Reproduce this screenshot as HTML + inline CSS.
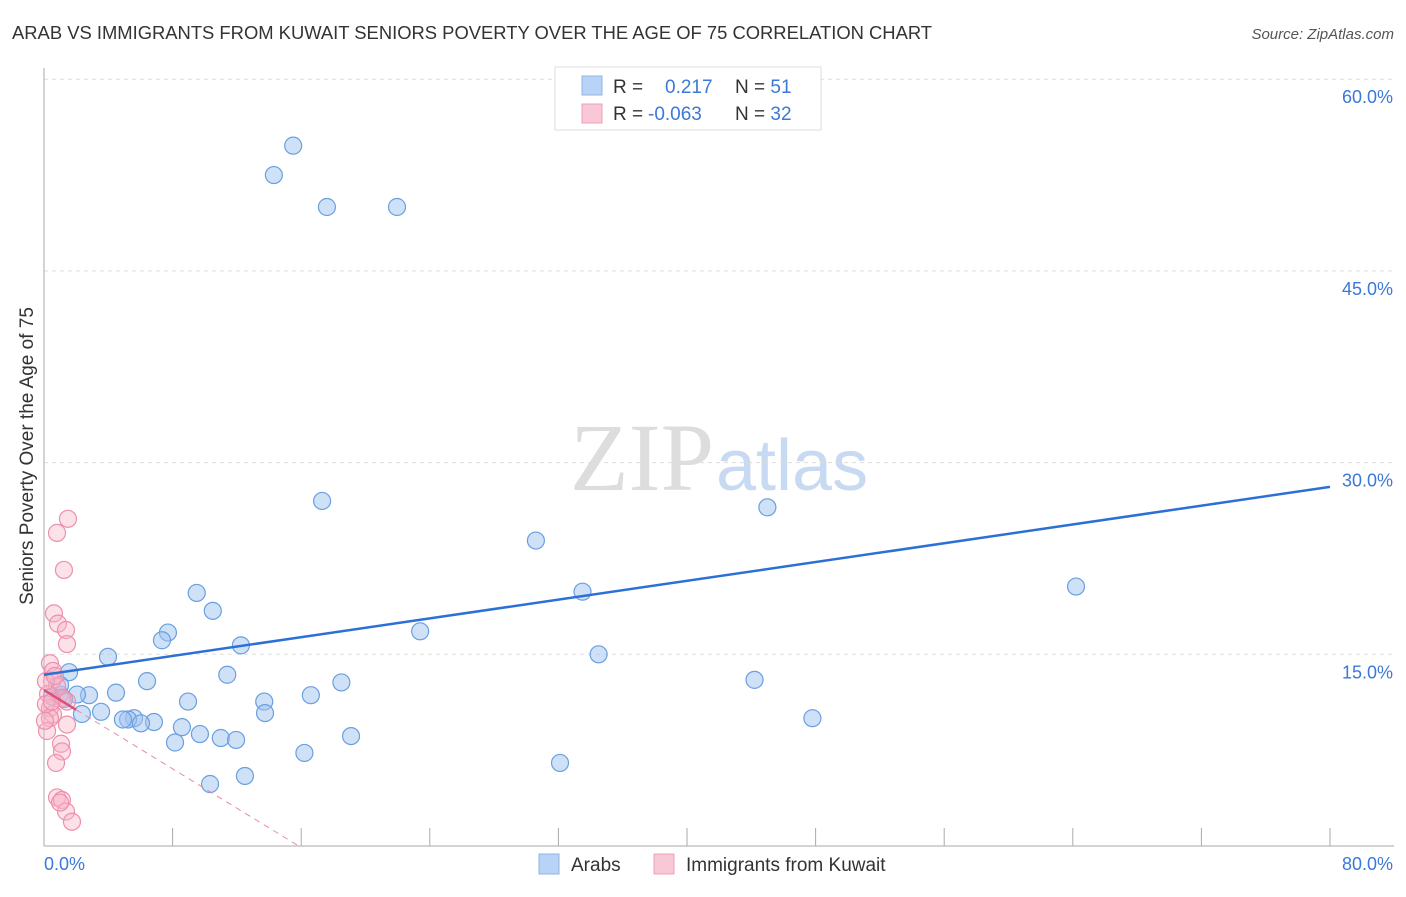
<!DOCTYPE html>
<html><head><meta charset="utf-8"><style>
body{margin:0;background:#fff;font-family:"Liberation Sans",sans-serif}
</style></head><body>
<svg id="c" width="1406" height="892" xmlns="http://www.w3.org/2000/svg" font-family="Liberation Sans, sans-serif">
<text x="12" y="39" font-size="18.4" fill="#333">ARAB VS IMMIGRANTS FROM KUWAIT SENIORS POVERTY OVER THE AGE OF 75 CORRELATION CHART</text>
<text x="1394" y="39" font-size="15" fill="#555" font-style="italic" text-anchor="end">Source: ZipAtlas.com</text>
<text x="714" y="490" font-size="96" fill="#ddd" text-anchor="end" font-family="Liberation Serif, serif">ZIP</text>
<text x="716" y="490" font-size="72" fill="#c8daf2">atlas</text>
<text transform="translate(33,456) rotate(-90)" font-size="19" fill="#333" text-anchor="middle">Seniors Poverty Over the Age of 75</text>
<g id="grid"></g><g id="marks"></g>
<g>
<rect x="555" y="67" width="266" height="63" fill="#fff" stroke="#ddd"/>
<rect x="582" y="76" width="20" height="19" fill="#b8d3f5" stroke="#8fb6e8"/>
<rect x="582" y="104" width="20" height="19" fill="#f9c8d6" stroke="#f0a0b8"/>
<text x="613" y="93" font-size="19" fill="#333">R = <tspan x="665" fill="#3b78d8">0.217</tspan><tspan x="735" fill="#333">N = </tspan><tspan fill="#3b78d8">51</tspan></text>
<text x="613" y="120" font-size="19" fill="#333">R = <tspan x="648" fill="#3b78d8">-0.063</tspan><tspan x="735" fill="#333">N = </tspan><tspan fill="#3b78d8">32</tspan></text>
</g>
<g>
<rect x="539" y="854" width="20" height="20" fill="#b8d3f5" stroke="#8fb6e8"/>
<text x="571" y="871" font-size="19" fill="#333">Arabs</text>
<rect x="654" y="854" width="20" height="20" fill="#f9c8d6" stroke="#f0a0b8"/>
<text x="686" y="871" font-size="19" fill="#333">Immigrants from Kuwait</text>
</g>
</svg>
<script>
const yTicks=[15,30,45,60];
const yTickLabels=["15.0%","30.0%","45.0%","60.0%"];
const xTicks=[8,16,24,32,40,48,56,64,72,80];
const arabX=[15.5,14.3,17.6,21.96,17.3,45.0,30.6,64.2,33.5,9.5,10.5,7.71,7.34,23.4,12.25,3.98,34.5,1.56,11.4,6.41,18.5,44.2,4.48,2.8,2.05,1.0,0.5,8.96,13.7,16.6,5.6,47.8,3.55,2.36,13.75,5.23,6.84,4.91,6.03,8.58,9.7,11.0,19.1,11.95,8.15,16.2,12.5,32.1,10.33,1.0,1.24];
const arabY=[54.8,52.5,50.0,50.0,27.0,26.5,23.9,20.3,19.9,19.8,18.4,16.7,16.1,16.8,15.7,14.8,15.0,13.6,13.4,12.9,12.8,13.0,12.0,11.8,11.85,11.85,11.7,11.3,11.3,11.8,10.0,10.0,10.5,10.33,10.4,9.9,9.7,9.9,9.6,9.3,8.76,8.45,8.6,8.3,8.1,7.28,5.48,6.5,4.85,12.6,11.5];
const kuwX=[1.49,0.81,1.24,0.62,0.87,1.37,1.43,0.37,0.56,0.5,0.81,0.25,1.12,0.37,0.56,1.43,0.37,0.19,1.06,1.12,0.75,0.81,1.12,1.37,1.74,1.0,0.12,0.12,0.06,0.5,1.43,0.68];
const kuwY=[25.6,24.5,21.6,18.2,17.4,16.9,15.8,14.3,13.7,12.9,12.5,11.9,11.6,10.8,10.3,9.5,10.0,9.0,8.0,7.4,6.5,3.8,3.6,2.7,1.9,3.4,12.9,11.1,9.8,11.3,11.3,13.3];
const lineArab=[13.4,28.1];
const lineKuw=[12.2,-0.77];
const X=v=>44+v*16.075, Y=v=>846-v*12.78;
const NS="http://www.w3.org/2000/svg";
function mk(t,a,p){const e=document.createElementNS(NS,t);for(const k in a)e.setAttribute(k,a[k]);p.appendChild(e);return e;}
const g=document.getElementById('grid'),m=document.getElementById('marks');
yTicks.forEach((t,i)=>{
 const l=mk('line',{x1:44,x2:1394,y1:Y(t),y2:Y(t),stroke:'#ddd','stroke-dasharray':'4,4'},g);
 
 
 const tx=mk('text',{x:1393,y:Y(t)+24,'font-size':18,fill:'#3b78d8','text-anchor':'end'},g);tx.textContent=yTickLabels[i];
 
 
});
const ax=mk('line',{x1:44,x2:44,y1:68,y2:846,stroke:'#aaa'},g);


const bx=mk('line',{x1:44,x2:1394,y1:846,y2:846,stroke:'#aaa'},g);


xTicks.forEach(t=>{const l=mk('line',{x1:X(t),x2:X(t),y1:828,y2:846,stroke:'#aaa'},g);
 
 });
let t0=mk('text',{x:44,y:870,'font-size':18,fill:'#3b78d8'},g);t0.textContent='0.0%';


let t1=mk('text',{x:1393,y:870,'font-size':18,fill:'#3b78d8','text-anchor':'end'},g);t1.textContent='80.0%';


arabX.forEach((v,i)=>{const c=mk('circle',{cx:X(v),cy:Y(arabY[i]),r:8.5,fill:'rgba(160,196,240,0.5)',stroke:'#6a9fe0','stroke-width':1.2},m);
 
 });
kuwX.forEach((v,i)=>{const c=mk('circle',{cx:X(v),cy:Y(kuwY[i]),r:8.5,fill:'rgba(248,180,200,0.4)',stroke:'#ee8fac','stroke-width':1.2},m);
 
 });
const la=mk('line',{x1:X(0),y1:Y(lineArab[0]),x2:X(80),y2:Y(lineArab[1]),stroke:'#2c70d6','stroke-width':2.5},m);


const xe=-lineKuw[0]/lineKuw[1];
const lk=mk('line',{x1:X(2),y1:Y(lineKuw[0]+lineKuw[1]*2),x2:X(xe),y2:Y(0),stroke:'#e88aa5','stroke-width':1,'stroke-dasharray':'6,5'},m);


const ls=mk('line',{x1:X(0),y1:Y(lineKuw[0]),x2:X(2),y2:Y(lineKuw[0]+lineKuw[1]*2),stroke:'#d9507a','stroke-width':2.5},m);


</script>
</body></html>
